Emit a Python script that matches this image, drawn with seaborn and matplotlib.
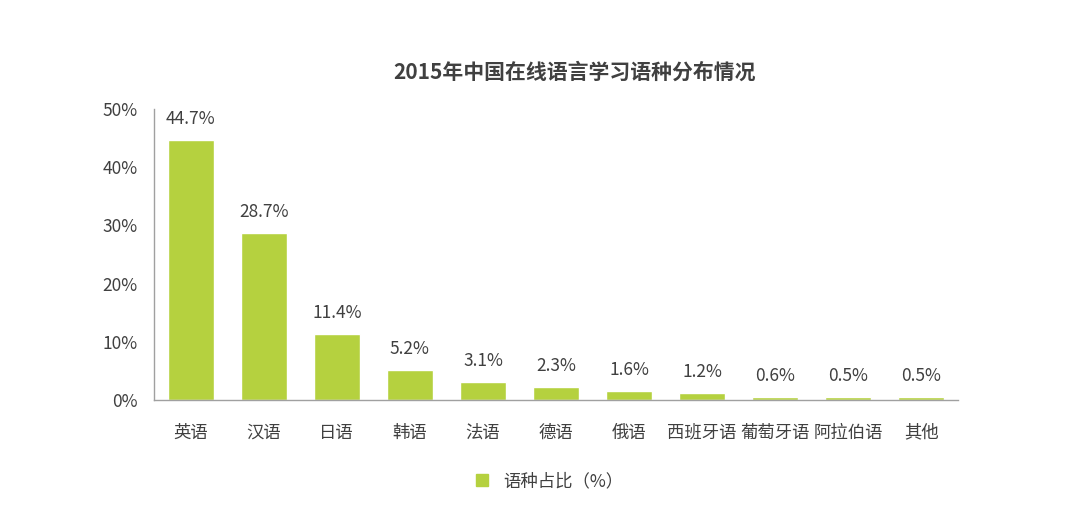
import pandas as pd
import seaborn as sns
import matplotlib.pyplot as plt
from matplotlib.lines import Line2D

# data
languages = ['英语', '汉语', '日语', '韩语', '法语', '德语', '俄语', '西班牙语', '葡萄牙语', '阿拉伯语', '其他']
shares = [44.7, 28.7, 11.4, 5.2, 3.1, 2.3, 1.6, 1.2, 0.6, 0.5, 0.5]
y_ticks = [0, 10, 20, 30, 40, 50]
title = '2015年中国在线语言学习语种分布情况'
legend_label = '语种占比（%）'

BAR_COLOR = '#b5d13f'
TEXT_COLOR = '#404040'

sns.set_theme(style='white')
plt.rcParams['font.family'] = ['Noto Sans CJK SC', 'DejaVu Sans']

df = pd.DataFrame({'language': languages, 'share': shares})

fig = plt.figure(figsize=(10.66, 5.18), dpi=100)
ax = fig.add_axes([0.1445, 0.2278, 0.7542, 0.5618])

sns.barplot(data=df, x='language', y='share', color=BAR_COLOR, width=0.63,
            saturation=1, ax=ax)

for i, v in enumerate(shares):
    ax.text(i, v + 2.0, f'{v}%', ha='center', va='bottom', fontsize=12.5, color=TEXT_COLOR)

ax.set_xlim(-0.5, len(languages) - 0.5)
ax.set_ylim(0, 50)
ax.set_yticks(y_ticks)
ax.set_yticklabels([f'{t}%' for t in y_ticks])
ax.tick_params(axis='both', length=0, labelsize=12.5, colors=TEXT_COLOR)
ax.tick_params(axis='x', pad=17)
ax.tick_params(axis='y', pad=12)
ax.set_xlabel('')
ax.set_ylabel('')

for side in ['top', 'right']:
    ax.spines[side].set_visible(False)
for side in ['left', 'bottom']:
    ax.spines[side].set_color('#a0a0a0')
    ax.spines[side].set_linewidth(1.0)

fig.text(575 / 1066, 1 - 72 / 518, title, ha='center', va='center',
         fontsize=15, fontweight='bold', color=TEXT_COLOR)

handle = Line2D([], [], marker='s', linestyle='', markersize=9,
                color=BAR_COLOR)
fig.legend([handle], [legend_label], loc='center', bbox_to_anchor=(544 / 1066, 1 - 481 / 518),
           frameon=False, fontsize=12.5, labelcolor=TEXT_COLOR, handletextpad=0.2)

fig.savefig('out.png', dpi=100)
